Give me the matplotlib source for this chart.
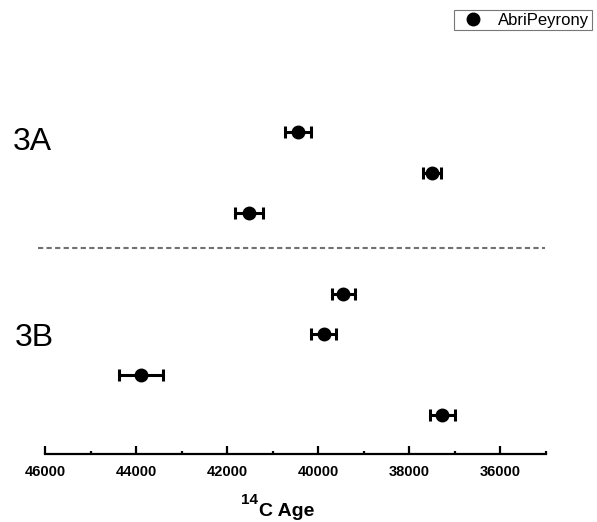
import matplotlib
matplotlib.use("Agg")
import matplotlib.pyplot as plt
from matplotlib.ticker import MultipleLocator, FixedLocator
from matplotlib.lines import Line2D

plt.rcParams['font.family'] = ['Liberation Sans', 'DejaVu Sans']

# Data (14C ages, 1-sigma errors); y rows from bottom
series_name = "AbriPeyrony"
ages_3A = [40450, 37500, 41510]
errs_3A = [285, 200, 310]
rows_3A = [8, 7, 6]
ages_3B = [39450, 39880, 43900, 37270]
errs_3B = [255, 275, 485, 275]
rows_3B = [4, 3, 2, 1]
group_labels = ["3A", "3B"]
xticks = [46000, 44000, 42000, 40000, 38000, 36000]

fig = plt.figure(figsize=(5.97, 5.22), dpi=100)
ax = fig.add_axes([45/597, 0.1303, 500.7/597, 0.7326])

ages = ages_3A + ages_3B
errs = errs_3A + errs_3B
rows = rows_3A + rows_3B
ax.errorbar(ages, rows, xerr=errs, fmt='o', color='black', ms=9,
            elinewidth=2.2, capsize=4, capthick=2.2, clip_on=False)

ax.set_xlim(46000, 35000)
ax.set_ylim(0.035, 9.5)

# dashed separator
ax.plot([46150, 35010], [5.13, 5.13], ls=(0, (2.5, 1.6)), color='#707070',
        lw=1.5, clip_on=False)

for s in ['top', 'right', 'left']:
    ax.spines[s].set_visible(False)
ax.spines['bottom'].set_linewidth(1.6)
ax.set_yticks([])
ax.xaxis.set_major_locator(FixedLocator(xticks))
ax.xaxis.set_minor_locator(MultipleLocator(1000))
ax.tick_params(axis='x', which='major', direction='in', length=5.5, width=1.6,
               pad=8, labelsize=10.5)
ax.tick_params(axis='x', which='minor', direction='in', length=2.3, width=1.6)
for lbl in ax.get_xticklabels():
    lbl.set_fontweight('bold')

# x label: superscript 14 + "C Age"
fig.text(241.5/597, 1 - 493/522, "14", fontsize=11, fontweight='bold',
         ha='left', va='top')
fig.text(259/597, 1 - 516/522, "C Age", fontsize=14, fontweight='bold',
         ha='left', va='baseline')

fig.text(12.7/597, 1 - 141.7/522, group_labels[0], fontsize=23,
         ha='left', va='center')
fig.text(14.5/597, 1 - 337.5/522, group_labels[1], fontsize=23,
         ha='left', va='center')

handle = Line2D([], [], ls='none', marker='o', color='black', ms=9)
leg = ax.legend([handle], [series_name], loc='upper right',
                bbox_to_anchor=(592/597, 1 - 10/522),
                bbox_transform=fig.transFigure, frameon=True, fancybox=False,
                fontsize=12, handlelength=2.0, handletextpad=0.5,
                borderpad=0.15, borderaxespad=0)
leg.get_frame().set_edgecolor('#555555')
leg.get_frame().set_linewidth(0.8)

fig.savefig('out.png', dpi=100)
